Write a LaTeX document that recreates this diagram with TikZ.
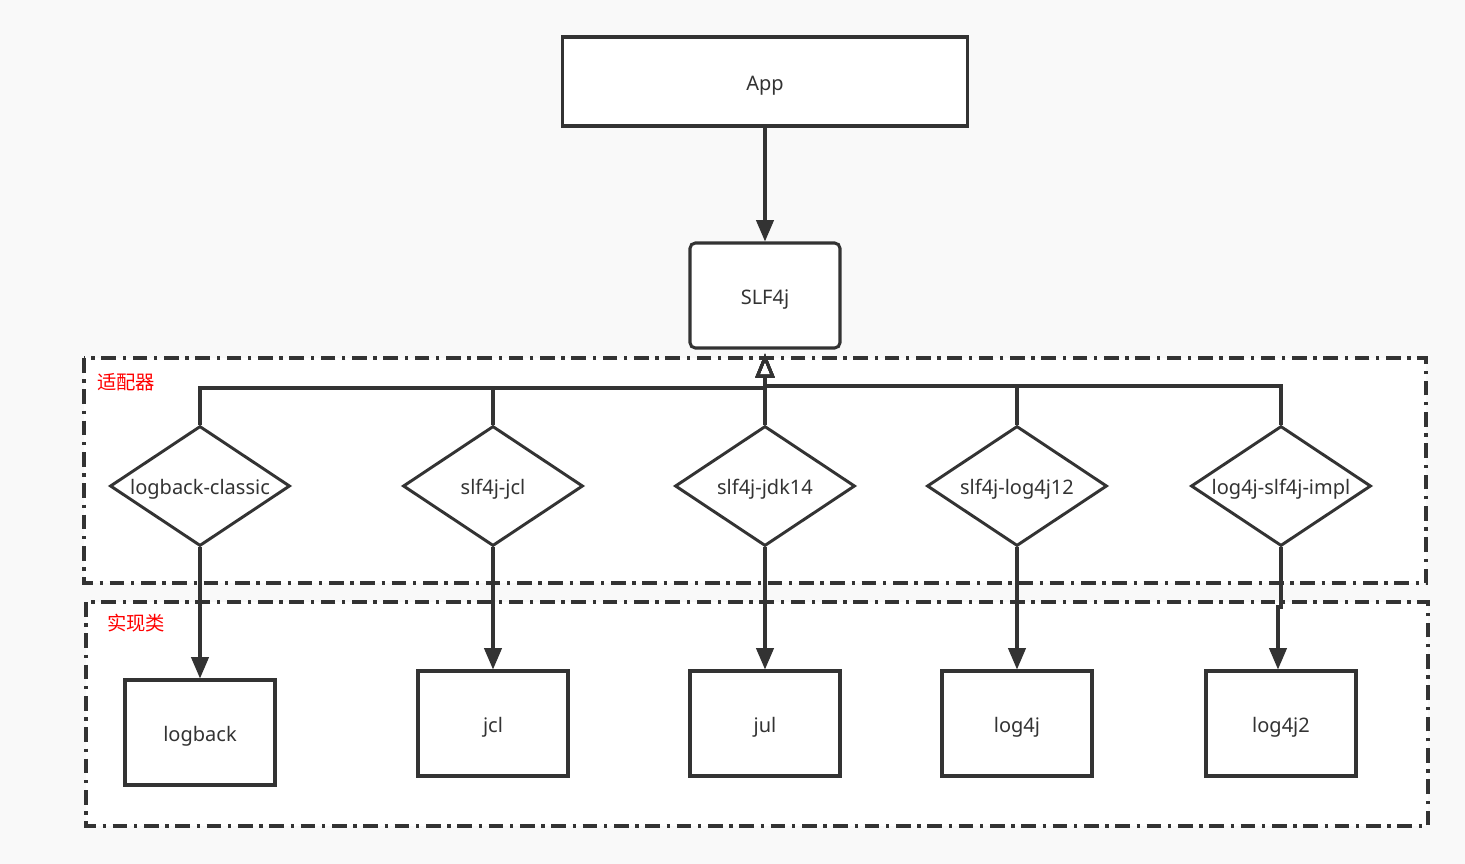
\documentclass[tikz,border=0pt]{standalone}
\usepackage{fontspec}
\setmainfont{Noto Sans}
\newfontfamily\cjk{Noto Sans CJK SC}
\usetikzlibrary{arrows.meta,shapes.geometric,calc}

\definecolor{ink}{HTML}{333333}
\definecolor{paper}{HTML}{F9F9F9}

\begin{document}
\begin{tikzpicture}[x=0.75pt,y=0.75pt,yscale=-1,xscale=1,
  every node/.style={font=\fontsize{15pt}{18pt}\selectfont, text=ink, text height=13pt, text depth=0pt},
  box/.style={draw=ink, line width=2.3pt, fill=white, minimum width=112.5pt, minimum height=78.75pt, inner sep=0pt},
  adapter/.style={draw=ink, line width=2.2pt, fill=white, shape=diamond, aspect=1.5, minimum width=135pt, minimum height=90pt, inner sep=0pt},
  region/.style={draw=ink, line width=2.4pt, fill=white, dash pattern=on 11pt off 5pt on 2.5pt off 5pt},
  tag/.style={font=\cjk\fontsize{14.5pt}{17pt}\selectfont, text=red, anchor=west, inner sep=0pt},
  link/.style={draw=ink, line width=2.3pt, -{Triangle[length=16pt,width=13pt]}},
  extends/.style={draw=ink, line width=2.3pt, -{Triangle[open,length=18pt,width=14pt,line width=2.2pt]}, shorten >=3pt}]
%set diagram to 1465 x 864
\useasboundingbox[fill=paper] (0,0) rectangle (1465,864);

%Shape: Dashed regions
\draw[region] (84,358) rectangle (1426,583);
\draw[region] (86,602) rectangle (1428,826);

% Text Node
\node[tag] (adaptertag) at (97,381) {适配器};
% Text Node
\node[tag] (impltag) at (107,622) {实现类};

%Shape: Rectangle [App]
\node[box, minimum width=303.75pt, minimum height=66.75pt] (app) at (765,81.5) {App};
%Shape: Rounded Rectangle [SLF4j]
\node[box, rounded corners=4pt, minimum height=78.75pt] (slf) at (765,295.5) {SLF4j};

%Shape: Diamonds
\node[adapter, label=center:logback-classic] (lbclassic) at (200,486) {};
\node[adapter, label=center:slf4j-jcl] (jcladp) at (493,486) {};
\node[adapter, label=center:slf4j-jdk14] (jdkadp) at (765,486) {};
\node[adapter, label=center:slf4j-log4j12] (logadp) at (1017,486) {};
\node[adapter, label=center:log4j-slf4j-impl] (implbridge) at (1281,486) {};

%Shape: Implementations
\node[box] (logback) at (200,732.5) {logback};
\node[box] (jcl) at (493,723.5) {jcl};
\node[box] (jul) at (765,723.5) {jul};
\node[box] (logfour) at (1017,723.5) {log4j};
\node[box] (logtwo) at (1281,723.5) {log4j2};

\coordinate (busleft) at (765,388);
\coordinate (busright) at (765,386);
\coordinate (kink) at (1281,607);

%Straight Lines
\draw[link] (app) -- (slf);
\draw[extends] (lbclassic.north) |- (busleft) -- (slf.south);
\draw[extends] (jcladp.north) |- (busleft) -- (slf.south);
\draw[extends] (jdkadp.north) -- (slf.south);
\draw[extends] (logadp.north) |- (busright) -- (slf.south);
\draw[extends] (implbridge.north) |- (busright) -- (slf.south);

\draw[link] (lbclassic.south) -- (logback.north);
\draw[link] (jcladp.south) -- (jcl.north);
\draw[link] (jdkadp.south) -- (jul.north);
\draw[link] (logadp.south) -- (logfour.north);
\draw[link] (implbridge.south) -- (kink) -| ([xshift=-2.25pt]logtwo.north);

\end{tikzpicture}
\end{document}
